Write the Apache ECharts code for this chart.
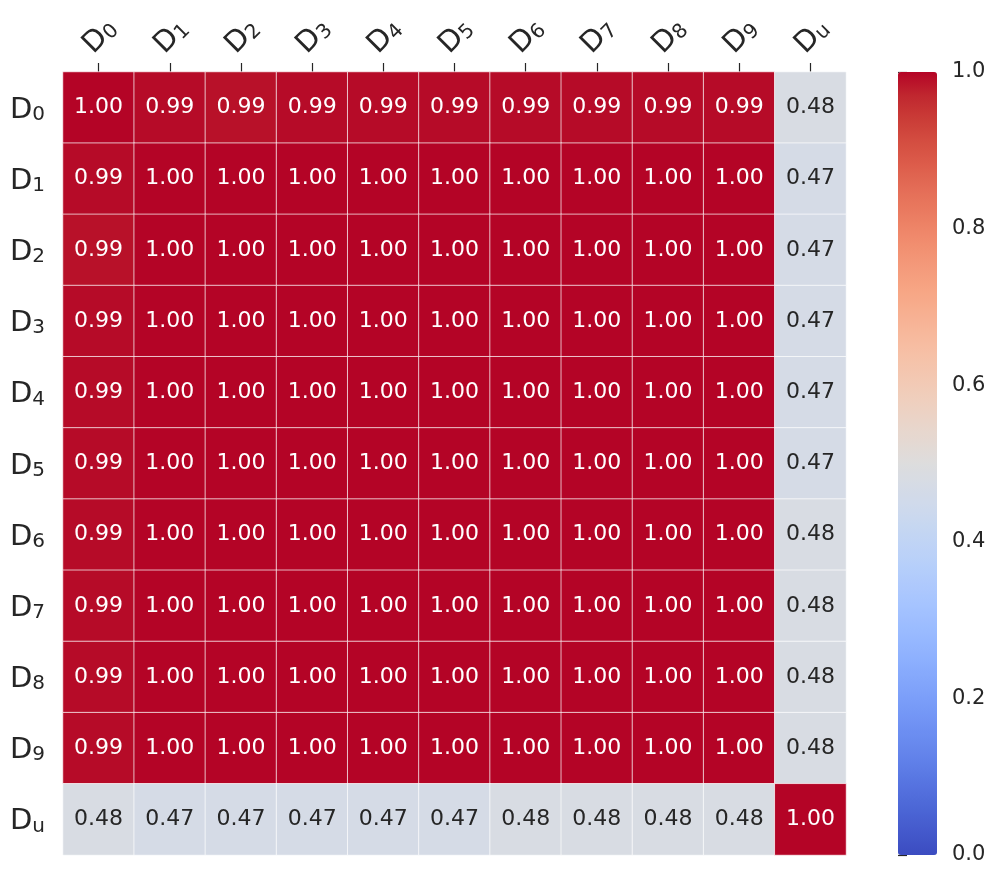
<!DOCTYPE html>
<html>
<head>
<meta charset="utf-8">
<script src="https://cdn.jsdelivr.net/npm/echarts@6/dist/echarts.min.js"></script>
<style>
  html, body { margin: 0; padding: 0; background: #fff; }
  #main { width: 997px; height: 879px; }
</style>
</head>
<body>
<div id="main"></div>
<script>
// subscripts for the D_x labels
const subs = ['0', '1', '2', '3', '4', '5', '6', '7', '8', '9', 'u']

// correlation matrix, row by row (row D0 first)
const row0 = [1.00, 0.994, 0.989, 0.994, 0.994, 0.994, 0.994, 0.994, 0.994, 0.994, 0.48]
const row1 = [0.994, 1.00, 1.00, 1.00, 1.00, 1.00, 1.00, 1.00, 1.00, 1.00, 0.47]
const row2 = [0.989, 1.00, 1.00, 1.00, 1.00, 1.00, 1.00, 1.00, 1.00, 1.00, 0.47]
const row3 = [0.994, 1.00, 1.00, 1.00, 1.00, 1.00, 1.00, 1.00, 1.00, 1.00, 0.47]
const row4 = [0.994, 1.00, 1.00, 1.00, 1.00, 1.00, 1.00, 1.00, 1.00, 1.00, 0.47]
const row5 = [0.994, 1.00, 1.00, 1.00, 1.00, 1.00, 1.00, 1.00, 1.00, 1.00, 0.47]
const row6 = [0.994, 1.00, 1.00, 1.00, 1.00, 1.00, 1.00, 1.00, 1.00, 1.00, 0.48]
const row7 = [0.994, 1.00, 1.00, 1.00, 1.00, 1.00, 1.00, 1.00, 1.00, 1.00, 0.48]
const row8 = [0.994, 1.00, 1.00, 1.00, 1.00, 1.00, 1.00, 1.00, 1.00, 1.00, 0.48]
const row9 = [0.994, 1.00, 1.00, 1.00, 1.00, 1.00, 1.00, 1.00, 1.00, 1.00, 0.48]
const rowU = [0.48, 0.47, 0.47, 0.47, 0.47, 0.47, 0.48, 0.48, 0.48, 0.48, 1.00]

// colorbar tick labels
const barTicks = [0.0, 0.2, 0.4, 0.6, 0.8, 1.0]

// coolwarm colormap stops
const coolwarm = [
  '#3b4cc0', '#445acc', '#4d68d7', '#5775e1', '#6282ea', '#6c8ef1', '#779af7', '#82a5fb',
  '#8db0fe', '#98b9ff', '#a3c2ff', '#aec9fd', '#b8d0f9', '#c2d5f4', '#ccd9ee', '#d5dbe6',
  '#dddddd', '#e5d8d1', '#ecd3c5', '#f1ccb8', '#f5c4ac', '#f7bb9f', '#f7b193', '#f7a685',
  '#f49a7b', '#f18d6f', '#ec7f63', '#e57059', '#de604d', '#d55042', '#cb3e38', '#c0282f',
  '#b40426'
]

const rows = [row0, row1, row2, row3, row4, row5, row6, row7, row8, row9, rowU]
const categories = subs.map(s => 'D' + s)

const data = []
rows.forEach((row, y) => {
  row.forEach((v, x) => {
    data.push({
      value: [x, y, v],
      label: { color: (v > 0.75 || v < 0.25) ? '#ffffff' : '#262626' }
    })
  })
})

const font = 'DejaVu Sans'
const labelRich = {
  d: { fontFamily: font, fontSize: 29, color: '#262626', verticalAlign: 'bottom', lineHeight: 34 },
  s: { fontFamily: font, fontSize: 20, color: '#262626', verticalAlign: 'bottom', lineHeight: 26 }
}
const fmtLabel = (v) => '{d|D}{s|' + v.slice(1) + '}'

const chart = echarts.init(document.getElementById('main'))

const option = {
  animation: false,
  grid: [
    { left: 63, top: 72, width: 783, height: 783 },
    { left: 898, top: 72, width: 39, height: 783 }
  ],
  xAxis: [
    {
      type: 'category',
      gridIndex: 0,
      position: 'top',
      data: categories,
      axisLine: { show: false },
      axisTick: { show: true, alignWithLabel: true, length: 9, lineStyle: { color: '#262626', width: 1.2 } },
      axisLabel: {
        rotate: -45,
        margin: 37,
        align: 'center',
        verticalAlign: 'middle',
        formatter: fmtLabel,
        rich: labelRich
      },
      splitLine: { show: false }
    },
    {
      type: 'value',
      gridIndex: 1,
      show: false
    }
  ],
  yAxis: [
    {
      type: 'category',
      gridIndex: 0,
      inverse: true,
      data: categories,
      axisLine: { show: false },
      axisTick: { show: false },
      axisLabel: {
        margin: 18,
        formatter: fmtLabel,
        rich: labelRich
      },
      splitLine: { show: false }
    },
    {
      type: 'value',
      gridIndex: 1,
      position: 'right',
      min: 0,
      max: 1,
      interval: 0.2,
      axisLine: { show: false },
      axisTick: { show: true, length: 9, lineStyle: { color: '#262626', width: 1.2 } },
      axisLabel: {
        margin: 15,
        fontFamily: font,
        fontSize: 21,
        color: '#262626',
        formatter: v => barTicks.includes(Math.round(v * 10) / 10) ? v.toFixed(1) : ''
      },
      splitLine: { show: false }
    }
  ],
  visualMap: {
    type: 'continuous',
    min: 0,
    max: 1,
    seriesIndex: 0,
    calculable: false,
    hoverLink: false,
    orient: 'vertical',
    left: 898,
    top: 72,
    padding: 0,
    itemWidth: 39,
    itemHeight: 783,
    text: null,
    showLabel: false,
    indicatorSize: 0,
    inRange: { color: coolwarm }
  },
  series: [
    {
      type: 'heatmap',
      xAxisIndex: 0,
      yAxisIndex: 0,
      data: data,
      itemStyle: { borderColor: 'rgba(255,255,255,0.7)', borderWidth: 1 },
      label: {
        show: true,
        fontFamily: font,
        fontSize: 22,
        formatter: p => p.value[2].toFixed(2)
      },
      emphasis: { disabled: true }
    }
  ]
}
chart.setOption(option)
</script>
</body>
</html>
